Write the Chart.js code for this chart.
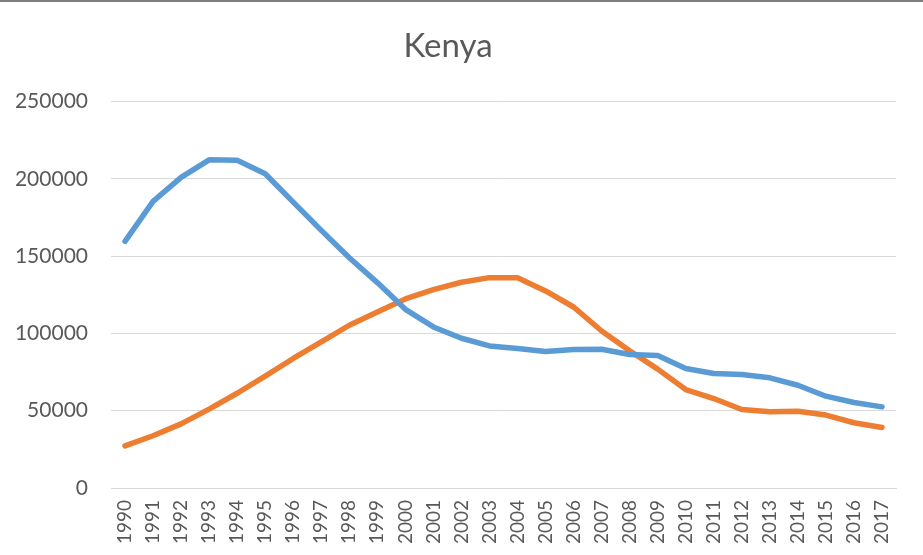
<!DOCTYPE html>
<html>
<head>
<meta charset="utf-8">
<script src="https://cdn.jsdelivr.net/npm/chart.js@4"></script>
<style>
  html, body { margin: 0; padding: 0; background: white; }
  #wrap { width: 923px; height: 555px; position: relative; }
</style>
</head>
<body>
<div id="wrap"><canvas id="chart" width="923" height="555"></canvas></div>
<script>
const years = ["1990","1991","1992","1993","1994","1995","1996","1997","1998","1999",
  "2000","2001","2002","2003","2004","2005","2006","2007","2008","2009",
  "2010","2011","2012","2013","2014","2015","2016","2017"]

const blueSeries = [159600, 185400, 201000, 212300, 212000, 203300, 185000, 166700, 149000, 132900,
  115600, 104200, 96900, 91900, 90200, 88300, 89600, 89800, 86400, 85800,
  77300, 74100, 73400, 71300, 66500, 59400, 55300, 52500]

const orangeSeries = [27300, 33800, 41500, 51000, 61300, 72400, 83800, 94500, 105300, 113900,
  122300, 128400, 133100, 136100, 136100, 127500, 117100, 101600, 88800, 76900,
  63700, 57900, 50800, 49300, 49700, 47200, 42200, 39200]

const yTicks = [0, 50000, 100000, 150000, 200000, 250000]

const gridColor = "#d9d9d9"
const textColor = "#595959"

// thin gray rule across the top of the picture
const topRule = {
  id: "topRule",
  beforeDraw(chart) {
    const ctx = chart.ctx
    ctx.save()
    ctx.fillStyle = "#7f7f7f"
    ctx.fillRect(0, 0, chart.width, 2)
    ctx.restore()
  }
}

const ctx = document.getElementById("chart").getContext("2d")
new Chart(ctx, {
  type: "line",
  data: {
    labels: years,
    datasets: [
      {
        label: "blue",
        data: blueSeries,
        borderColor: "#5b9bd5",
        borderWidth: 5.5,
        pointRadius: 0,
        tension: 0,
        borderCapStyle: "round",
        borderJoinStyle: "round"
      },
      {
        label: "orange",
        data: orangeSeries,
        borderColor: "#ed7d31",
        borderWidth: 5.5,
        pointRadius: 0,
        tension: 0,
        borderCapStyle: "round",
        borderJoinStyle: "round"
      }
    ]
  },
  options: {
    responsive: false,
    animation: false,
    layout: { padding: { left: 0, right: 27, top: 0, bottom: 0 } },
    plugins: {
      legend: { display: false },
      tooltip: { enabled: false },
      title: {
        display: true,
        text: "Kenya",
        color: textColor,
        font: { family: "Lato", size: 33, weight: "normal" },
        padding: { top: 27, bottom: 35 }
      }
    },
    scales: {
      x: {
        offset: true,
        grid: { display: false, drawTicks: false },
        border: { display: true, color: gridColor, width: 1 },
        ticks: {
          color: textColor,
          font: { family: "Lato", size: 19 },
          minRotation: 90,
          maxRotation: 90,
          autoSkip: false,
          padding: 12
        },
        afterFit(scale) { scale.height = 67 }
      },
      y: {
        min: 0,
        max: 250000,
        afterBuildTicks(scale) { scale.ticks = yTicks.map(v => ({ value: v })) },
        grid: { color: gridColor, lineWidth: 1, drawTicks: false },
        border: { display: false },
        ticks: {
          color: textColor,
          font: { family: "Lato", size: 21 },
          padding: 23,
          callback: v => String(v)
        },
        afterFit(scale) { scale.width = 111 }
      }
    }
  },
  plugins: [topRule]
})
</script>
</body>
</html>
